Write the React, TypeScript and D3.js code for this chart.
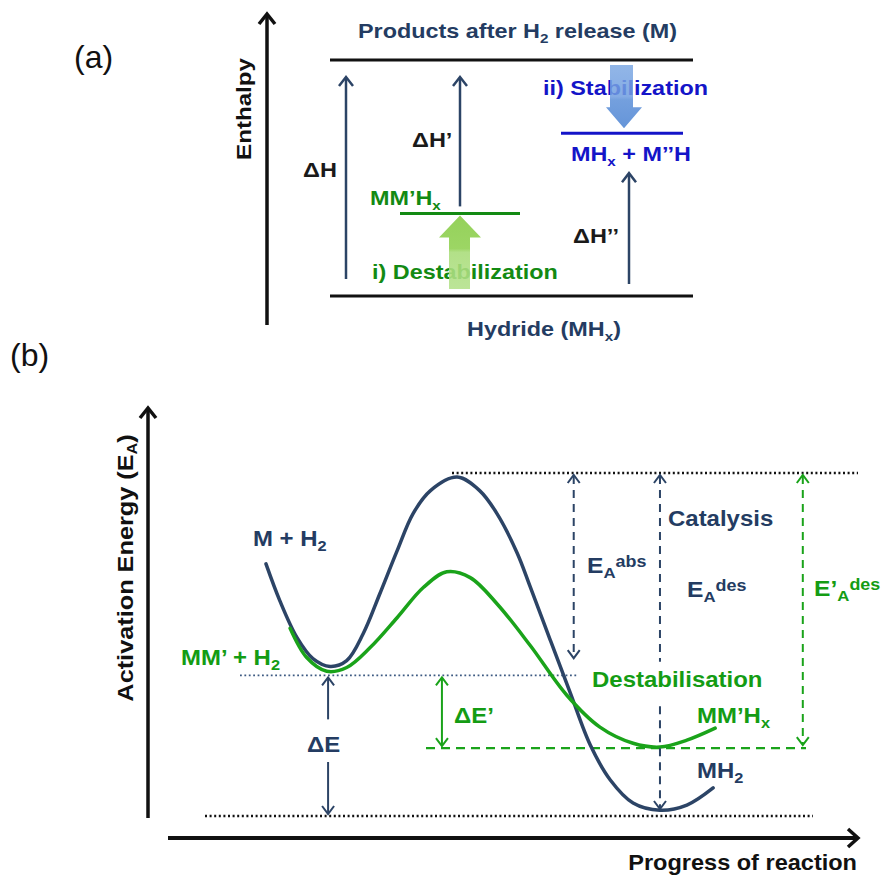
import React from "react";
import * as d3 from "d3";

// ---------- Panel (a): enthalpy levels ----------
const levelNamesA = ["Hydride (MH", "MM\u2019H", "MH", "Products after H"];
const levelEnthalpyA = [0, 35, 69, 100];
const enthalpyAxisLabel = "Enthalpy";

// ---------- Panel (b): energy profiles ----------
const navyProgress = [14.2, 16.2, 18.7, 21.0, 23.5, 25.9, 28.3, 30.7, 33.2, 35.5, 38.0, 41.9, 45.2, 47.7, 50.6, 52.5, 55.4, 58.3, 61.2, 64.1, 67.4, 71.3, 75.2, 79.0];
const navyEnergy = [73.5, 62.8, 52.0, 45.9, 43.6, 45.3, 53.2, 64.8, 77.3, 88.1, 94.8, 98.8, 94.8, 88.1, 76.7, 66.8, 51.3, 35.9, 20.7, 10.5, 3.8, 1.7, 3.2, 8.2];
const greenProgress = [17.7, 20.1, 23.0, 25.9, 29.3, 33.2, 37.0, 40.4, 43.8, 47.8, 52.5, 57.8, 62.6, 67.4, 71.3, 75.2, 79.3];
const greenEnergy = [54.7, 46.2, 42.2, 43.3, 49.1, 57.8, 66.6, 71.2, 69.5, 61.6, 49.7, 35.2, 25.9, 21.2, 20.1, 22.1, 25.6];
// reference levels: MH2 minimum, MM'Hx minimum, reactant minimum, barrier top
const energyLevelsB = [0, 19.8, 41.0, 100];
// arrow positions (progress units)
const arrowProgressB = [23.2, 39.7, 58.8, 71.3, 92.0];

const FONT = "'Liberation Sans', Arial, Helvetica, sans-serif";
const NAVY = "#243c62";
const NAVY_LINE = "#2c4466";
const GREEN_A = "#138a13";
const GREEN_B = "#149c14";
const GREEN_CURVE = "#1aa31a";
const BLUE = "#1414c8";
const PRIME = "\u2019";

type TP = {
  x: number; y: number; size: number; fill: string; sx?: number; rot?: number;
  anchor?: "start" | "middle" | "end"; weight?: string; children: React.ReactNode;
};
function Txt({ x, y, size, fill, sx = 1, rot = 0, anchor = "start", weight = "bold", children }: TP) {
  return (
    <text
      transform={`translate(${x},${y}) rotate(${rot}) scale(${sx},1)`}
      fontSize={size}
      fill={fill}
      fontWeight={weight}
      textAnchor={anchor}
      fontFamily={FONT}
    >
      {children}
    </text>
  );
}

function chev(x: number, y: number, dir: number, w: number, h: number) {
  return `M${x - w},${y + h * dir} L${x},${y} L${x + w},${y + h * dir}`;
}

function VArrow({ x, y1, y2, color, width, w, h, dash, both = false }:
  { x: number; y1: number; y2: number; color: string; width: number; w: number; h: number; dash?: string; both?: boolean }) {
  return (
    <g stroke={color} strokeWidth={width} fill="none">
      <line x1={x} y1={y1 + 1} x2={x} y2={y2 - (both ? 1 : 0)} strokeDasharray={dash} />
      <path d={chev(x, y1, 1, w, h)} />
      {both && <path d={chev(x, y2, -1, w, h)} />}
    </g>
  );
}

export default function App() {
  const yA = d3.scaleLinear().domain([0, 100]).range([296, 60]);
  const xB = d3.scaleLinear().domain([0, 100]).range([168, 858]);
  const yB = d3.scaleLinear().domain([0, 100]).range([816, 473]);

  const line = d3
    .line<[number, number]>()
    .x((d) => xB(d[0]))
    .y((d) => yB(d[1]))
    .curve(d3.curveCatmullRom.alpha(0.5));
  const navyPath = line(navyProgress.map((p, i) => [p, navyEnergy[i]] as [number, number])) || "";
  const greenPath = line(greenProgress.map((p, i) => [p, greenEnergy[i]] as [number, number])) || "";

  const [hyd, destab, stab, prod] = levelEnthalpyA.map((v) => yA(v));
  const [eMin, eGreen, eReact, eTop] = energyLevelsB.map((v) => yB(v));
  const [pDE, pDE2, pAbs, pDes, pDes2] = arrowProgressB.map((v) => xB(v));

  const SA = 20, SXA = 1.17;
  const SB = 22, SXB = 1.09;

  return (
    <svg width={892} height={879} style={{ position: "absolute", left: 0, top: 0, background: "#fff" }}>
      <defs>
        <linearGradient id="gArrow" x1="0" y1="0" x2="0" y2="1">
          <stop offset="0" stopColor="#86cb44" />
          <stop offset="0.45" stopColor="#8fd04f" />
          <stop offset="0.5" stopColor="#a8dc78" />
          <stop offset="1" stopColor="#b3e18a" />
        </linearGradient>
        <linearGradient id="bArrow" x1="0" y1="0" x2="0" y2="1">
          <stop offset="0" stopColor="#7ea9e3" />
          <stop offset="0.5" stopColor="#6f9de0" />
          <stop offset="0.55" stopColor="#5b8fd8" />
          <stop offset="1" stopColor="#4a82d2" />
        </linearGradient>
      </defs>

      {/* ================= Panel (a) ================= */}
      <Txt x={74} y={68} size={32} fill="#111" weight="normal">(a)</Txt>
      <g stroke="#111" strokeWidth={3.5} fill="none">
        <line x1={267} y1={16} x2={267} y2={325} />
        <path d={chev(267, 14, 1, 8, 10)} />
      </g>
      <Txt x={251} y={109} size={21} fill="#111" sx={1.15} rot={-90} anchor="middle">{enthalpyAxisLabel}</Txt>

      <line x1={330} x2={693} y1={prod} y2={prod} stroke="#111" strokeWidth={3} />
      <line x1={330} x2={693} y1={hyd} y2={hyd} stroke="#111" strokeWidth={3} />
      <line x1={400} x2={520} y1={destab} y2={destab} stroke={GREEN_A} strokeWidth={3} />
      <line x1={561} x2={683} y1={stab} y2={stab} stroke={BLUE} strokeWidth={3} />

      <Txt x={358} y={38} size={SA} fill={NAVY} sx={SXA}>
        {levelNamesA[3]}<tspan dy={5} fontSize={13}>2</tspan><tspan dy={-5}> release (M)</tspan>
      </Txt>
      <Txt x={467} y={336} size={SA} fill={NAVY} sx={SXA}>
        {levelNamesA[0]}<tspan dy={5} fontSize={13}>x</tspan><tspan dy={-5}>)</tspan>
      </Txt>
      <Txt x={370} y={205} size={SA} fill={GREEN_A} sx={SXA}>
        {levelNamesA[1]}<tspan dy={5} fontSize={13}>x</tspan>
      </Txt>
      <Txt x={571} y={161} size={SA} fill={BLUE} sx={SXA}>
        {levelNamesA[2]}<tspan dy={5} fontSize={13}>x</tspan><tspan dy={-5}>{" + M" + PRIME + PRIME + "H"}</tspan>
      </Txt>
      <Txt x={372} y={279} size={SA} fill={GREEN_A} sx={SXA}>i) Destabilization</Txt>
      <Txt x={543} y={95} size={SA} fill={BLUE} sx={SXA}>ii) Stabilization</Txt>

      <VArrow x={346} y1={prod + 17} y2={hyd - 17} color={NAVY_LINE} width={2.5} w={7} h={9} />
      <VArrow x={460} y1={prod + 17} y2={destab - 7} color={NAVY_LINE} width={2.5} w={7} h={9} />
      <VArrow x={629} y1={stab + 40} y2={hyd - 12} color={NAVY_LINE} width={2.5} w={7} h={9} />
      <Txt x={303} y={177} size={21} fill="#1a1a1a" sx={1.12}>ΔH</Txt>
      <Txt x={412} y={147} size={21} fill="#1a1a1a" sx={1.12}>{"ΔH" + PRIME}</Txt>
      <Txt x={573} y={243} size={21} fill="#1a1a1a" sx={1.12}>{"ΔH" + PRIME + PRIME}</Txt>

      <path
        d={`M449,${hyd - 7} L449,${destab + 24} L439,${destab + 24} L460,${destab + 2} L481,${destab + 24} L470,${destab + 24} L470,${hyd - 7} Z`}
        fill="url(#gArrow)" opacity={0.88}
      />
      <path
        d={`M610,${prod + 5} L610,${stab - 26} L606,${stab - 26} L624,${stab - 5} L642,${stab - 26} L633,${stab - 26} L633,${prod + 5} Z`}
        fill="url(#bArrow)" opacity={0.85}
      />

      {/* ================= Panel (b) ================= */}
      <Txt x={10} y={366} size={32} fill="#111" weight="normal">(b)</Txt>
      <g stroke="#111" strokeWidth={3.5} fill="none">
        <line x1={148} y1={410} x2={148} y2={818} />
        <path d={chev(148, 408, 1, 8, 10)} />
        <line x1={168} y1={838} x2={856} y2={838} strokeWidth={4} />
        <path d={`M848,829 L858,838 L848,847`} strokeWidth={3.5} />
      </g>
      <Txt x={133} y={568} size={SB} fill="#111" sx={1.15} rot={-90} anchor="middle">
        Activation Energy (E<tspan dy={4} fontSize={14}>A</tspan><tspan dy={-4}>)</tspan>
      </Txt>
      <Txt x={857} y={870} size={SB} fill="#111" sx={1.07} anchor="end">Progress of reaction</Txt>

      <line x1={452} x2={858} y1={eTop} y2={eTop} stroke="#111" strokeWidth={2.5} strokeDasharray="2 2.6" />
      <line x1={205} x2={813} y1={eMin} y2={eMin} stroke="#111" strokeWidth={2.5} strokeDasharray="2 2.6" />
      <line x1={240} x2={578} y1={eReact} y2={eReact} stroke="#3d5a82" strokeWidth={1.8} strokeDasharray="1.8 2.6" />
      <line x1={426} x2={806} y1={eGreen} y2={eGreen} stroke={GREEN_CURVE} strokeWidth={2.2} strokeDasharray="9 6" />

      <path d={navyPath} fill="none" stroke={NAVY_LINE} strokeWidth={3.5} strokeLinecap="round" />
      <path d={greenPath} fill="none" stroke={GREEN_CURVE} strokeWidth={3.5} strokeLinecap="round" />

      <VArrow x={pDE} y1={eReact + 2} y2={eReact + 44} color={NAVY_LINE} width={2} w={6} h={8} />
      <g stroke={NAVY_LINE} strokeWidth={2} fill="none">
        <line x1={pDE} x2={pDE} y1={eMin - 54} y2={eMin - 3} />
        <path d={chev(pDE, eMin - 2, -1, 6, 8)} />
      </g>
      <VArrow x={pDE2} y1={eReact + 2} y2={eGreen - 2} color={GREEN_CURVE} width={2} w={6} h={8} both />
      <VArrow x={pAbs} y1={eTop + 2} y2={yB(46)} color={NAVY_LINE} width={2} w={6} h={8} dash="8 6" both />
      <g stroke={NAVY_LINE} strokeWidth={2} fill="none">
        <line x1={pDes} x2={pDes} y1={eTop + 3} y2={yB(45)} strokeDasharray="8 6" />
        <line x1={pDes} x2={pDes} y1={yB(32)} y2={eMin - 7} strokeDasharray="8 6" />
        <path d={chev(pDes, eTop + 2, 1, 6, 8)} />
        <path d={chev(pDes, eMin - 7, -1, 6, 8)} />
      </g>
      <VArrow x={pDes2} y1={eTop + 2} y2={eGreen - 3} color={GREEN_CURVE} width={2} w={6} h={8} dash="8 6" both />

      <Txt x={253} y={546} size={SB} fill={NAVY} sx={SXB}>
        M + H<tspan dy={5} fontSize={15}>2</tspan>
      </Txt>
      <Txt x={181} y={665} size={SB} fill={GREEN_B} sx={SXB}>
        {"MM" + PRIME + " + H"}<tspan dy={5} fontSize={15}>2</tspan>
      </Txt>
      <Txt x={668} y={526} size={SB} fill={NAVY} sx={SXB}>Catalysis</Txt>
      <Txt x={587} y={573} size={SB} fill={NAVY} sx={1.12}>
        E<tspan dy={5} fontSize={15}>A</tspan><tspan dy={-11} fontSize={16}>abs</tspan>
      </Txt>
      <Txt x={687} y={597} size={SB} fill={NAVY} sx={1.12}>
        E<tspan dy={5} fontSize={15}>A</tspan><tspan dy={-11} fontSize={16}>des</tspan>
      </Txt>
      <Txt x={814} y={596} size={SB} fill={GREEN_B} sx={1.12}>
        {"E" + PRIME}<tspan dy={5} fontSize={15}>A</tspan><tspan dy={-11} fontSize={16}>des</tspan>
      </Txt>
      <Txt x={592} y={687} size={SB} fill={GREEN_B} sx={SXB}>Destabilisation</Txt>
      <Txt x={697} y={723} size={SB} fill={GREEN_B} sx={SXB}>
        {"MM" + PRIME + "H"}<tspan dy={5} fontSize={15}>x</tspan>
      </Txt>
      <Txt x={697} y={778} size={SB} fill={NAVY} sx={SXB}>
        MH<tspan dy={5} fontSize={15}>2</tspan>
      </Txt>
      <Txt x={307} y={752} size={SB} fill={NAVY} sx={SXB}>ΔE</Txt>
      <Txt x={454} y={723} size={SB} fill={GREEN_B} sx={SXB}>{"ΔE" + PRIME}</Txt>
    </svg>
  );
}
